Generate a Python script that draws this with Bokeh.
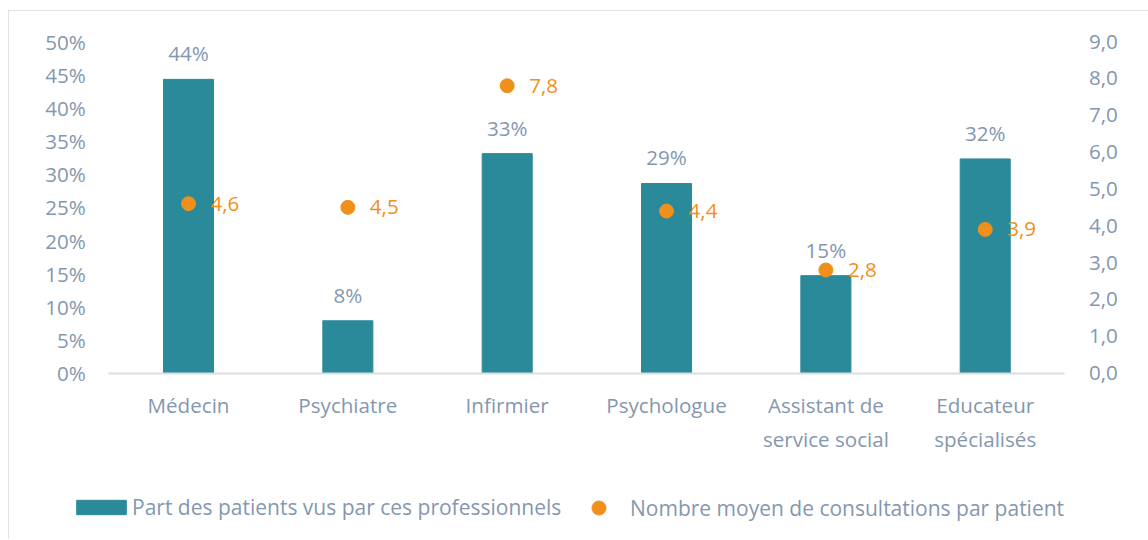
from bokeh.plotting import figure
from bokeh.models import (ColumnDataSource, LinearAxis, Range1d, FixedTicker,
                          CustomJSTickFormatter, Legend, LegendItem, LabelSet)
from bokeh.core.properties import value
from bokeh.embed import file_html
from bokeh.resources import INLINE

categories = ["Médecin", "Psychiatre", "Infirmier", "Psychologue", "Assistant de\nservice social", "Educateur\nspécialisés"]
share = [0.443, 0.079, 0.331, 0.286, 0.147, 0.323]
share_labels = ["44%", "8%", "33%", "29%", "15%", "32%"]
consult = [4.6, 4.5, 7.8, 4.4, 2.8, 3.9]
consult_labels = ["4,6", "4,5", "7,8", "4,4", "2,8", "3,9"]
left_ticks = [0, 0.05, 0.10, 0.15, 0.20, 0.25, 0.30, 0.35, 0.40, 0.45, 0.50]
right_ticks = [0, 1, 2, 3, 4, 5, 6, 7, 8, 9]
series_names = ["Part des patients vus par ces professionnels", "Nombre moyen de consultations par patient"]

FONT = "Open Sans"
TXT = "#8497B0"
BAR = "#2B8A99"
ORANGE = "#F0901A"
FS = "20.6px"
FS_LEG = "21px"

xs = list(range(len(categories)))

W, H = 1140, 529
p = figure(width=W, height=H, x_range=Range1d(-1.1234, 6.031), y_range=Range1d(-0.2523, 0.5453),
           output_backend="svg", toolbar_location=None,
           min_border_left=0, min_border_right=0, min_border_top=0, min_border_bottom=0)
p.styles = {"border-left": "1px solid #e0e3e6", "border-top": "1px solid #e0e3e6",
            "margin-top": "10px", "margin-left": "8px"}
p.outline_line_color = None
p.xgrid.grid_line_color = None
p.ygrid.grid_line_color = None
p.background_fill_color = "white"
p.border_fill_color = "white"

p.extra_y_ranges = {"right": Range1d(-4.541, 9.815)}

src = ColumnDataSource(dict(x=xs, share=share, sl=share_labels, consult=consult, cl=consult_labels))

bars = p.vbar(x="x", top="share", width=0.314, source=src, fill_color=BAR, line_color=BAR)
pts = p.scatter(x="x", y="consult", size=14, source=src, fill_color=ORANGE, line_color=ORANGE,
                y_range_name="right")

p.add_layout(LabelSet(x="x", y="share", text="sl", source=src, text_align="center",
                      text_baseline="bottom", y_offset=12, text_color=TXT, text_font=value(FONT),
                      text_font_size=FS))
p.add_layout(LabelSet(x="x", y="consult", text="cl", source=src, text_align="left",
                      text_baseline="middle", x_offset=22, y_range_name="right",
                      text_color=ORANGE, text_font=value(FONT), text_font_size=FS))

ya = p.yaxis[0]
ya.ticker = FixedTicker(ticks=left_ticks)
ya.formatter = CustomJSTickFormatter(code="return Math.round(tick*100) + '%';")
ya.fixed_location = -0.5
ra = LinearAxis(y_range_name="right", ticker=FixedTicker(ticks=right_ticks),
                formatter=CustomJSTickFormatter(code="return tick.toFixed(1).replace('.', ',');"))
ra.fixed_location = 5.5
p.add_layout(ra, "right")

for ax, so in [(ya, 23), (ra, 24)]:
    ax.axis_line_color = None
    ax.major_tick_line_color = None
    ax.minor_tick_line_color = None
    ax.major_tick_out = 0
    ax.major_tick_in = 0
    ax.major_label_text_color = TXT
    ax.major_label_text_font = FONT
    ax.major_label_text_font_size = FS
    ax.major_label_standoff = so

xa = p.xaxis[0]
xa.ticker = FixedTicker(ticks=xs)
xa.major_label_overrides = {i: c for i, c in zip(xs, categories)}
xa.fixed_location = 0
xa.bounds = (-0.5, 5.5)
xa.axis_line_color = "#D9DDE1"
xa.axis_line_width = 2
xa.major_tick_line_color = None
xa.minor_tick_line_color = None
xa.major_tick_out = 0
xa.major_tick_in = 0
xa.major_label_text_color = TXT
xa.major_label_text_font = FONT
xa.major_label_text_font_size = FS
xa.major_label_standoff = 18

common = dict(orientation="horizontal", border_line_color=None, background_fill_alpha=0,
              padding=0, margin=0, label_text_color=TXT, label_text_font=FONT,
              label_text_font_size=FS_LEG)
leg1 = Legend(items=[LegendItem(label=series_names[0], renderers=[bars])],
              location=(61, 19), glyph_width=62, glyph_height=18, label_standoff=0, **common)
leg2 = Legend(items=[LegendItem(label=series_names[1], renderers=[pts])],
              location=(572, 15), glyph_width=35, glyph_height=35, label_standoff=14, **common)
p.add_layout(leg1, "center")
p.add_layout(leg2, "center")

open("out.html", "w").write(file_html(p, INLINE))
